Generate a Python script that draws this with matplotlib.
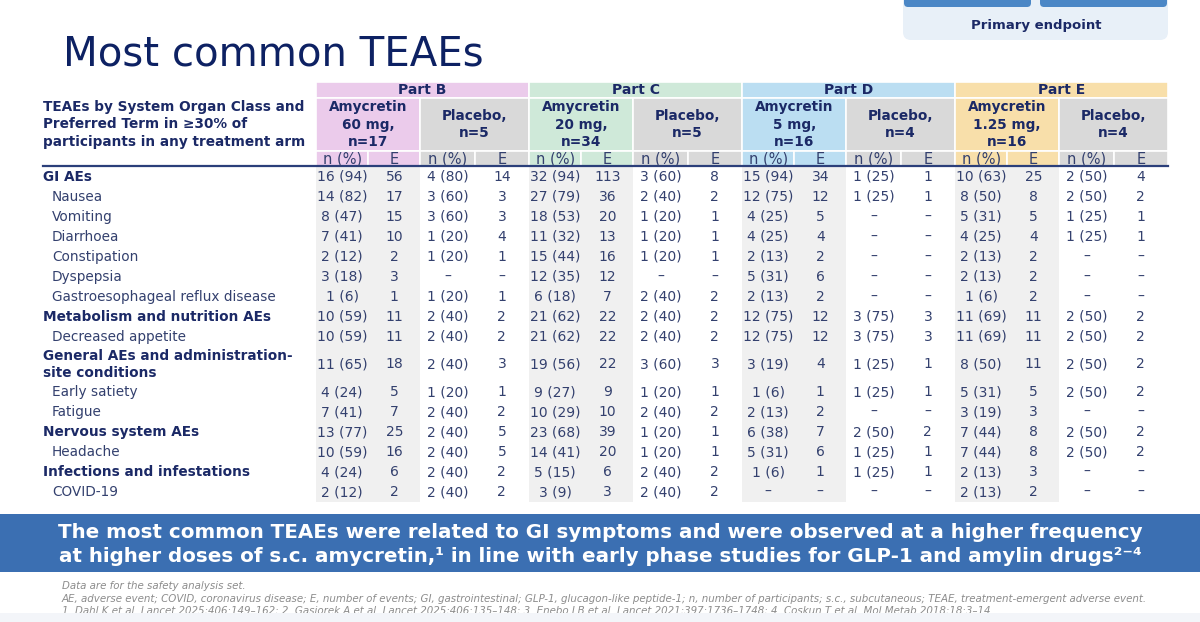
import matplotlib
matplotlib.use("Agg")
import matplotlib.pyplot as plt
from matplotlib.patches import Rectangle, FancyBboxPatch

# ---- data ----
parts = ["Part B", "Part C", "Part D", "Part E"]
arm_labels = ["Amycretin\n60 mg,\nn=17", "Placebo,\nn=5",
              "Amycretin\n20 mg,\nn=34", "Placebo,\nn=5",
              "Amycretin\n5 mg,\nn=16", "Placebo,\nn=4",
              "Amycretin\n1.25 mg,\nn=16", "Placebo,\nn=4"]
row_labels = ["GI AEs", "Nausea", "Vomiting", "Diarrhoea", "Constipation", "Dyspepsia",
              "Gastroesophageal reflux disease", "Metabolism and nutrition AEs",
              "Decreased appetite", "General AEs and administration-\nsite conditions",
              "Early satiety", "Fatigue", "Nervous system AEs", "Headache",
              "Infections and infestations", "COVID-19"]
row_bold = [1, 0, 0, 0, 0, 0, 0, 1, 0, 1, 0, 0, 1, 0, 1, 0]

# (n, %, E) per row; None = no event
b_amy = [(16, 94, 56), (14, 82, 17), (8, 47, 15), (7, 41, 10), (2, 12, 2), (3, 18, 3), (1, 6, 1),
         (10, 59, 11), (10, 59, 11), (11, 65, 18), (4, 24, 5), (7, 41, 7), (13, 77, 25),
         (10, 59, 16), (4, 24, 6), (2, 12, 2)]
b_pbo = [(4, 80, 14), (3, 60, 3), (3, 60, 3), (1, 20, 4), (1, 20, 1), None, (1, 20, 1),
         (2, 40, 2), (2, 40, 2), (2, 40, 3), (1, 20, 1), (2, 40, 2), (2, 40, 5),
         (2, 40, 5), (2, 40, 2), (2, 40, 2)]
c_amy = [(32, 94, 113), (27, 79, 36), (18, 53, 20), (11, 32, 13), (15, 44, 16), (12, 35, 12), (6, 18, 7),
         (21, 62, 22), (21, 62, 22), (19, 56, 22), (9, 27, 9), (10, 29, 10), (23, 68, 39),
         (14, 41, 20), (5, 15, 6), (3, 9, 3)]
c_pbo = [(3, 60, 8), (2, 40, 2), (1, 20, 1), (1, 20, 1), (1, 20, 1), None, (2, 40, 2),
         (2, 40, 2), (2, 40, 2), (3, 60, 3), (1, 20, 1), (2, 40, 2), (1, 20, 1),
         (1, 20, 1), (2, 40, 2), (2, 40, 2)]
d_amy = [(15, 94, 34), (12, 75, 12), (4, 25, 5), (4, 25, 4), (2, 13, 2), (5, 31, 6), (2, 13, 2),
         (12, 75, 12), (12, 75, 12), (3, 19, 4), (1, 6, 1), (2, 13, 2), (6, 38, 7),
         (5, 31, 6), (1, 6, 1), None]
d_pbo = [(1, 25, 1), (1, 25, 1), None, None, None, None, None,
         (3, 75, 3), (3, 75, 3), (1, 25, 1), (1, 25, 1), None, (2, 50, 2),
         (1, 25, 1), (1, 25, 1), None]
e_amy = [(10, 63, 25), (8, 50, 8), (5, 31, 5), (4, 25, 4), (2, 13, 2), (2, 13, 2), (1, 6, 2),
         (11, 69, 11), (11, 69, 11), (8, 50, 11), (5, 31, 5), (3, 19, 3), (7, 44, 8),
         (7, 44, 8), (2, 13, 3), (2, 13, 2)]
e_pbo = [(2, 50, 4), (2, 50, 2), (1, 25, 1), (1, 25, 1), None, None, None,
         (2, 50, 2), (2, 50, 2), (2, 50, 2), (2, 50, 2), None, (2, 50, 2),
         (2, 50, 2), None, None]
arms = [b_amy, b_pbo, c_amy, c_pbo, d_amy, d_pbo, e_amy, e_pbo]

part_colors = ["#ebcbeb", "#cfe9d9", "#bbdef2", "#f8dfaa"]
pbo_color = "#d9d9d9"
navy = "#0d2163"
hdr = "#1b2966"
txt = "#33406e"

# ---- layout ----
fig = plt.figure(figsize=(12, 6.22), dpi=100)
ax = fig.add_axes([0, 0, 1, 1])
ax.set_xlim(0, 1200)
ax.set_ylim(622, 0)
ax.axis("off")

ax.text(63, 55, "Most common TEAEs", fontsize=29, color=navy, va="center", ha="left")

# top-right box
ax.add_patch(FancyBboxPatch((903, -20), 265, 60, boxstyle="round,pad=0,rounding_size=8",
                            fc="#e8f0f8", ec="none"))
for bx in (904, 1040):
    ax.add_patch(FancyBboxPatch((bx, -10), 127, 17, boxstyle="round,pad=0,rounding_size=4",
                                fc="#4b87c6", ec="none"))
ax.text(1036, 25, "Primary endpoint", fontsize=9.5, fontweight="bold", color=hdr,
        ha="center", va="center")

x0, part_w = 316, 213
sub = [0, 0.245, 0.49, 0.745, 1.0]
y_part, y_arm, y_sub, y_line = 82, 98, 151, 166
row_h = [35 if "\n" in r else 20 for r in row_labels]
tops = [y_line + 1 + sum(row_h[:i]) for i in range(len(row_h))]
y_bottom = tops[-1] + row_h[-1]

for p, part in enumerate(parts):
    px = x0 + p * part_w
    edges = [px + f * part_w for f in sub]
    ax.add_patch(Rectangle((px, y_part), part_w, y_arm - y_part, fc=part_colors[p], ec="white", lw=1.2))
    ax.text(px + part_w / 2, (y_part + y_arm) / 2 + 0.5, part, fontsize=10, fontweight="bold",
            color=hdr, ha="center", va="center")
    for a in range(2):
        col = part_colors[p] if a == 0 else pbo_color
        xl, xr = edges[2 * a], edges[2 * a + 2]
        ax.add_patch(Rectangle((xl, y_arm), xr - xl, y_sub - y_arm, fc=col, ec="white", lw=1.2))
        ax.text((xl + xr) / 2, 124.5, arm_labels[2 * p + a], fontsize=9.8,
                fontweight="bold", color=hdr, ha="center", va="center", linespacing=1.3)
        for s, lab in enumerate(["n (%)", "E"]):
            cl, cr = edges[2 * a + s], edges[2 * a + s + 1]
            ax.add_patch(Rectangle((cl, y_sub), cr - cl, y_line - y_sub, fc=col, ec="white", lw=1.2))
            ax.text((cl + cr) / 2, (y_sub + y_line) / 2 + 0.5, lab, fontsize=10.5, color=txt,
                    ha="center", va="center")
        if a == 0:
            ax.add_patch(Rectangle((xl, y_line), xr - xl, y_bottom - y_line, fc="#f0f0f0", ec="none"))
        vals = arms[2 * p + a]
        for r, v in enumerate(vals):
            yc = tops[r] + row_h[r] / 2
            if v is None:
                s1, s2 = "–", "–"
            else:
                s1, s2 = f"{v[0]} ({v[1]})", str(v[2])
            ax.text((edges[2 * a] + edges[2 * a + 1]) / 2, yc, s1, fontsize=10, color=txt,
                    ha="center", va="center")
            ax.text((edges[2 * a + 1] + edges[2 * a + 2]) / 2, yc, s2, fontsize=10, color=txt,
                    ha="center", va="center")

ax.text(43, 124.5, "TEAEs by System Organ Class and\nPreferred Term in ≥30% of\nparticipants in any treatment arm",
        fontsize=9.8, fontweight="bold", color=hdr, ha="left", va="center", linespacing=1.3)
ax.plot([43, x0 + 4 * part_w], [y_line, y_line], color="#2b3f7a", lw=1.6)

for r, lab in enumerate(row_labels):
    yc = tops[r] + row_h[r] / 2
    if row_bold[r]:
        ax.text(43, yc, lab, fontsize=9.8, fontweight="bold", color=hdr, ha="left", va="center",
                linespacing=1.3)
    else:
        ax.text(52, yc, lab, fontsize=9.8, color=txt, ha="left", va="center")

# banner
ax.add_patch(Rectangle((0, 514), 1200, 58, fc="#3b6fb2", ec="none"))
ax.text(600, 532, "The most common TEAEs were related to GI symptoms and were observed at a higher frequency",
        fontsize=14.3, fontweight="bold", color="white", ha="center", va="center")
ax.text(600, 556, "at higher doses of s.c. amycretin,¹ in line with early phase studies for GLP-1 and amylin drugs²⁻⁴",
        fontsize=14.3, fontweight="bold", color="white", ha="center", va="center")

# footnotes
foot = ["Data are for the safety analysis set.",
        "AE, adverse event; COVID, coronavirus disease; E, number of events; GI, gastrointestinal; GLP-1, glucagon-like peptide-1; "
        "n, number of participants; s.c., subcutaneous; TEAE, treatment-emergent adverse event.",
        "1. Dahl K et al. Lancet 2025;406:149–162; 2. Gasiorek A et al. Lancet 2025;406:135–148; "
        "3. Enebo LB et al. Lancet 2021;397:1736–1748; 4. Coskun T et al. Mol Metab 2018;18:3–14."]
for i, f in enumerate(foot):
    ax.text(62, 586 + 12.5 * i, f, fontsize=7.4, style="italic", color="#8c8c8c", ha="left", va="center")
ax.add_patch(Rectangle((0, 613), 1200, 12, fc="#f3f5f9", ec="none", zorder=5))

fig.savefig("out.png", dpi=100)
